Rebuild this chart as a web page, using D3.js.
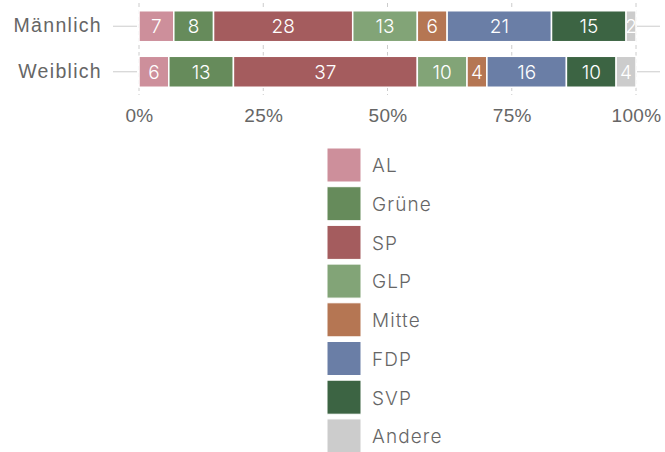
<!DOCTYPE html>
<html>
<head>
<meta charset="utf-8">
<script src="https://cdn.jsdelivr.net/npm/d3@7"></script>
<style>
  body { margin: 0; background: #fff; }
  svg { display: block; font-family: Inter, "Noto Sans", sans-serif; font-weight: 300; }
</style>
</head>
<body>
<svg></svg>
<script>
const width = 665;
const height = 452;

// categories and values (percent)
const genders = ["Männlich", "Weiblich"];
const parties = ["AL", "Grüne", "SP", "GLP", "Mitte", "FDP", "SVP", "Andere"];
const colors = ["#cd8f9b", "#668b5b", "#a45c5e", "#82a477", "#b57653", "#6a7ea6", "#3c6443", "#cccccc"];
const male_values = [7, 8, 28, 13, 6, 21, 15, 2];
const female_values = [6, 13, 37, 10, 4, 16, 10, 4];
const x_ticks = [0, 25, 50, 75, 100];

let svg = d3.select('svg').attr('width', width).attr('height', height);

let x = d3.scaleLinear().domain([0, 100]).range([139, 636]);
let y = d3.scaleBand().domain(genders).range([3, 95]).paddingInner(0.32).paddingOuter(0.17);
let color = d3.scaleOrdinal().domain(parties).range(colors);

// gridlines
svg.append('g')
    .selectAll('line')
    .data(x_ticks)
    .enter().append('line')
    .attr('x1', d => x(d)).attr('x2', d => x(d))
    .attr('y1', 3).attr('y2', 95)
    .attr('stroke', '#cccccc')
    .attr('stroke-dasharray', '4,3');

// y axis on both sides (tick lines only)
let yAxisL = d3.axisLeft(y).tickSize(24).tickPadding(11);
let gl = svg.append('g').attr('transform', 'translate(137,0)').call(yAxisL);
gl.select('.domain').remove();
gl.selectAll('line').attr('stroke', '#cccccc');
gl.selectAll('text').attr('fill', '#666').style('font-size', '19.5px').style('letter-spacing', '1.3px');

let yAxisR = d3.axisRight(y).tickSize(23).tickFormat('');
let gr = svg.append('g').attr('transform', 'translate(637,0)').call(yAxisR);
gr.select('.domain').remove();
gr.selectAll('line').attr('stroke', '#cccccc');

// x axis
let xAxis = d3.axisBottom(x).tickValues(x_ticks).tickFormat(d => d + '%').tickSize(0).tickPadding(8);
let gx = svg.append('g').attr('transform', 'translate(0,101)').call(xAxis);
gx.select('.domain').remove();
gx.selectAll('text').attr('fill', '#666').style('font-size', '19px').style('letter-spacing', '0.3px');

// stacked segments
let rows = genders.map((g, i) => {
    let vals = i === 0 ? male_values : female_values;
    let acc = 0;
    return vals.map((v, j) => {
        let s = {gender: g, party: parties[j], value: v, x0: acc, x1: acc + v, id: i + '_' + j};
        acc += v;
        return s;
    });
}).flat();

let defs = svg.append('defs');
defs.selectAll('clipPath')
    .data(rows)
    .enter().append('clipPath')
    .attr('id', d => 'clip' + d.id)
    .append('rect')
    .attr('x', d => x(d.x0)).attr('y', d => y(d.gender))
    .attr('width', d => x(d.x1) - x(d.x0)).attr('height', y.bandwidth());

let seg = svg.append('g').selectAll('g')
    .data(rows)
    .enter().append('g');

seg.append('rect')
    .attr('x', d => x(d.x0)).attr('y', d => y(d.gender))
    .attr('width', d => x(d.x1) - x(d.x0)).attr('height', y.bandwidth())
    .attr('fill', d => color(d.party))
    .attr('stroke', '#fff').attr('stroke-width', 1.5);

seg.append('text')
    .attr('clip-path', d => 'url(#clip' + d.id + ')')
    .attr('x', d => (x(d.x0) + x(d.x1)) / 2)
    .attr('y', d => y(d.gender) + y.bandwidth() / 2)
    .attr('dy', '0.36em')
    .attr('text-anchor', 'middle')
    .attr('fill', '#fff')
    .style('font-size', '19px')
    .text(d => d.value);

// legend
let legend = svg.append('g').attr('transform', 'translate(327,148)');
let item = legend.selectAll('g')
    .data(parties)
    .enter().append('g')
    .attr('transform', (d, i) => 'translate(0,' + (i * 38.7) + ')');

item.append('rect')
    .attr('width', 34).attr('height', 34)
    .attr('fill', d => color(d))
    .attr('stroke', '#fff').attr('stroke-width', 1);

item.append('text')
    .attr('x', 45).attr('y', 17.5).attr('dy', '0.36em')
    .attr('fill', '#666')
    .style('font-size', '19px')
    .style('letter-spacing', '1.1px')
    .text(d => d);
</script>
</body>
</html>
